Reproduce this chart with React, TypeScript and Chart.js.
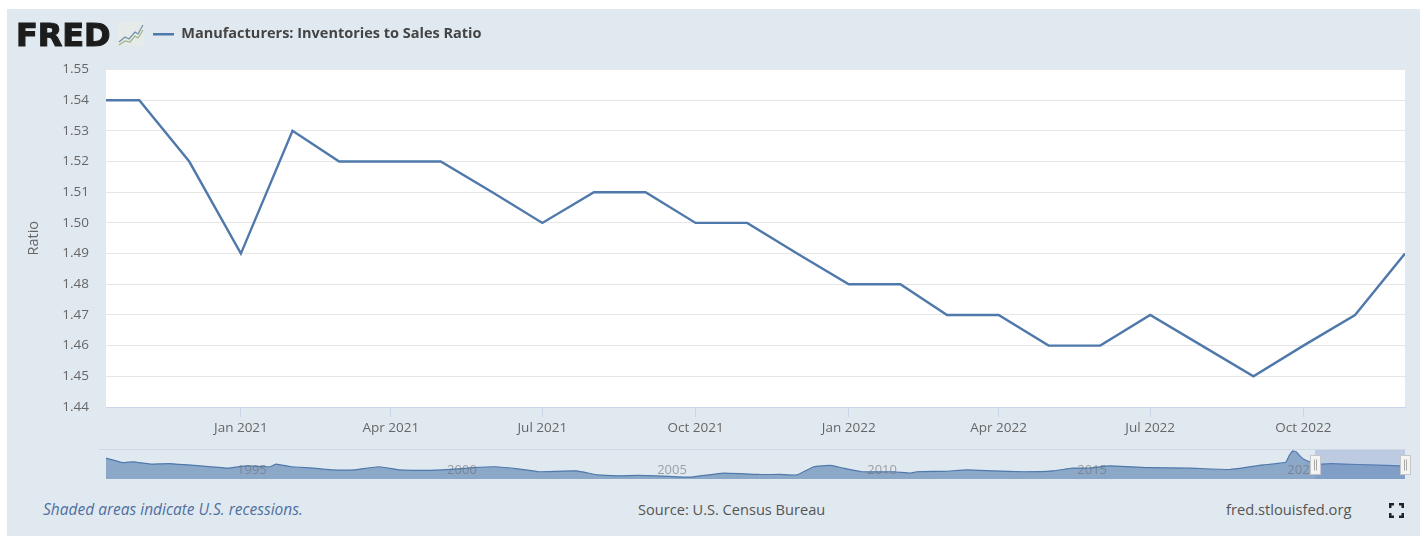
import React, { useEffect, useRef } from "react";
import { Chart, registerables } from "chart.js";

Chart.register(...registerables);

const SERIES_NAME = "Manufacturers: Inventories to Sales Ratio";

// Monthly observations shown in the main panel.
const months = [
  "2020-10-01", "2020-11-01", "2020-12-01", "2021-01-01", "2021-02-01", "2021-03-01", "2021-04-01",
  "2021-05-01", "2021-06-01", "2021-07-01", "2021-08-01", "2021-09-01", "2021-10-01", "2021-11-01",
  "2021-12-01", "2022-01-01", "2022-02-01", "2022-03-01", "2022-04-01", "2022-05-01", "2022-06-01",
  "2022-07-01", "2022-08-01", "2022-09-01", "2022-10-01", "2022-11-01", "2022-12-01",
];
const ratios = [
  1.54, 1.54, 1.52, 1.49, 1.53, 1.52, 1.52, 1.52, 1.51, 1.5, 1.51, 1.51, 1.5, 1.5, 1.49, 1.48, 1.48,
  1.47, 1.47, 1.46, 1.46, 1.47, 1.46, 1.45, 1.46, 1.47, 1.49,
];

const viewStart = "2020-10-12";
const viewEnd = "2022-12-01";

const quarterDates = [
  "2021-01-01", "2021-04-01", "2021-07-01", "2021-10-01", "2022-01-01", "2022-04-01", "2022-07-01", "2022-10-01",
];
const quarterLabels = ["Jan 2021", "Apr 2021", "Jul 2021", "Oct 2021", "Jan 2022", "Apr 2022", "Jul 2022", "Oct 2022"];

// Full history drawn in the range navigator, as decimal years.
const historyYears = [
  1992.0, 1992.4, 1992.65, 1993.05, 1993.5, 1994.25, 1994.9, 1995.35, 1995.9, 1996.05, 1996.4, 1996.95, 1997.4,
  1997.9, 1998.5, 1999.0, 1999.7, 2000.0, 2000.75, 2001.25, 2001.85, 2002.3, 2003.2, 2003.7, 2004.2, 2004.65,
  2005.1, 2005.9, 2006.7, 2007.55, 2008.05, 2008.45, 2008.85, 2009.25, 2009.55, 2010.0, 2010.75, 2011.15, 2011.3,
  2011.95, 2012.5, 2013.1, 2013.85, 2014.55, 2015.0, 2015.4, 2015.9, 2016.85, 2017.8, 2018.75, 2019.55, 2020.08,
  2020.17, 2020.25, 2020.33, 2020.42, 2020.5, 2020.65, 2020.9, 2021.15, 2021.8, 2022.8, 2022.92,
];
const historyRatios = [
  1.61, 1.51, 1.53, 1.48, 1.49, 1.44, 1.39, 1.44, 1.42, 1.48, 1.42, 1.39, 1.35, 1.35, 1.42, 1.35, 1.34, 1.35, 1.4,
  1.42, 1.37, 1.31, 1.33, 1.24, 1.22, 1.23, 1.22, 1.19, 1.28, 1.25, 1.25, 1.24, 1.42, 1.45, 1.39, 1.31, 1.31, 1.28,
  1.31, 1.32, 1.35, 1.33, 1.31, 1.33, 1.39, 1.39, 1.44, 1.4, 1.39, 1.36, 1.46, 1.52, 1.68, 1.77, 1.75, 1.66, 1.59,
  1.53, 1.48, 1.49, 1.47, 1.44, 1.44,
];
const navigatorYears = [1995, 2000, 2005, 2010, 2015, 2020];
const navigatorWindow = [2020.78, 2022.92];

const FONT = '"Open Sans", sans-serif';
const TEXT = "#666666";

const toTime = (d: string) => new Date(d + "T00:00:00Z").getTime();

// Paints the white plot area and moves the legend next to the logo.
const plotFrame = {
  id: "plotFrame",
  afterLayout(chart: any) {
    const legend = chart.legend;
    legend.left = 143;
    legend.right = 900;
    legend.top = 17;
  },
  beforeDraw(chart: any) {
    const { ctx, chartArea: a } = chart;
    ctx.save();
    ctx.fillStyle = "#ffffff";
    ctx.fillRect(a.left, a.top, a.right - a.left, a.bottom - a.top);
    ctx.restore();
  },
};

// Year labels, selection mask and drag handles of the range navigator.
const navigatorOverlay = {
  id: "navigatorOverlay",
  beforeDatasetsDraw(chart: any) {
    const { ctx, chartArea: a } = chart;
    ctx.save();
    ctx.strokeStyle = "#cfd8e0";
    ctx.lineWidth = 1;
    ctx.beginPath();
    ctx.moveTo(99, a.top - 0.5);
    ctx.lineTo(a.right + 1, a.top - 0.5);
    ctx.stroke();
    ctx.restore();
  },
  afterDatasetsDraw(chart: any) {
    const { ctx, chartArea: a, scales } = chart;
    const x = scales.x;
    ctx.save();
    ctx.font = `13px ${FONT}`;
    ctx.fillStyle = "rgba(110,110,110,0.6)";
    ctx.textAlign = "left";
    ctx.textBaseline = "middle";
    navigatorYears.forEach((yr) => ctx.fillText(String(yr), x.getPixelForValue(yr) + 5, a.top + 20));

    const x0 = x.getPixelForValue(navigatorWindow[0]);
    const x1 = x.getPixelForValue(navigatorWindow[1]);
    ctx.fillStyle = "rgba(102,133,194,0.3)";
    ctx.fillRect(x0, a.top, x1 - x0, a.bottom - a.top);

    [x0, x1].forEach((cx) => {
      const w = 10;
      const h = 19;
      const top = a.top + 5.5;
      const left = Math.round(cx - w / 2) + 0.5;
      ctx.fillStyle = "#f4f4f2";
      ctx.strokeStyle = "#c4c8cc";
      ctx.lineWidth = 1;
      ctx.fillRect(left, top, w, h);
      ctx.strokeRect(left, top, w, h);
      ctx.strokeStyle = "#a9a9a9";
      ctx.beginPath();
      ctx.moveTo(left + 4, top + 4);
      ctx.lineTo(left + 4, top + h - 4);
      ctx.moveTo(left + 6, top + 4);
      ctx.lineTo(left + 6, top + h - 4);
      ctx.stroke();
    });
    ctx.restore();
  },
};

const cornerIcon = "M1 5V1H5 M10 1H14V5 M14 10V14H10 M5 14H1V10";

export default function App() {
  const mainRef = useRef<HTMLCanvasElement>(null);
  const navRef = useRef<HTMLCanvasElement>(null);

  useEffect(() => {
    const main = new Chart(mainRef.current!, {
      type: "line",
      plugins: [plotFrame],
      data: {
        datasets: [
          {
            label: SERIES_NAME,
            data: months.map((m, i) => ({ x: toTime(m), y: ratios[i] })),
            borderColor: "#4f78ab",
            backgroundColor: "#4f78ab",
            borderWidth: 2.4,
            pointRadius: 0,
            tension: 0,
          },
        ],
      },
      options: {
        responsive: false,
        animation: false,
        layout: { padding: { top: 35, right: 15, left: 25, bottom: 0 } },
        plugins: {
          tooltip: { enabled: false },
          legend: {
            display: true,
            align: "start",
            labels: {
              usePointStyle: true,
              pointStyle: "line",
              pointStyleWidth: 21,
              color: "#444444",
              font: { family: FONT, size: 14.5, weight: "700" },
              padding: 10,
            },
          },
        },
        scales: {
          x: {
            type: "linear",
            min: toTime(viewStart),
            max: toTime(viewEnd),
            afterBuildTicks: (scale: any) => {
              scale.ticks = quarterDates.map((d) => ({ value: toTime(d) }));
            },
            afterFit: (scale: any) => {
              scale.height = 38;
            },
            border: { color: "#ccd6eb" },
            grid: { drawOnChartArea: false, drawTicks: true, tickLength: 10, color: "#ccd6eb" },
            ticks: {
              autoSkip: false,
              maxRotation: 0,
              padding: 3,
              color: TEXT,
              font: { family: FONT, size: 13.5 },
              callback: (v: any) => quarterLabels[quarterDates.findIndex((d) => toTime(d) === v)],
            },
          },
          y: {
            min: 1.44,
            max: 1.55,
            afterFit: (scale: any) => {
              scale.width = 81;
            },
            border: { display: false },
            grid: { color: "#e6e6e6", drawTicks: false },
            title: {
              display: true,
              text: "Ratio",
              color: TEXT,
              font: { family: FONT, size: 14.5 },
              padding: 0,
            },
            ticks: {
              stepSize: 0.01,
              padding: 17,
              color: TEXT,
              font: { family: FONT, size: 13.5 },
              callback: (v: any) => Number(v).toFixed(2),
            },
          },
        },
      },
    } as any);

    const nav = new Chart(navRef.current!, {
      type: "line",
      plugins: [navigatorOverlay],
      data: {
        datasets: [
          {
            data: historyYears.map((yr, i) => ({ x: yr, y: historyRatios[i] })),
            borderColor: "#4f78ab",
            borderWidth: 1.2,
            backgroundColor: "rgba(69,114,167,0.55)",
            fill: "start",
            pointRadius: 0,
            tension: 0.1,
          },
        ],
      },
      options: {
        responsive: false,
        animation: false,
        layout: { padding: { top: 5, right: 15, left: 106, bottom: 6 } },
        plugins: { legend: { display: false }, tooltip: { enabled: false } },
        scales: {
          x: { type: "linear", display: false, min: 1992, max: 2022.92 },
          y: { display: false, min: 1.15, max: 1.79 },
        },
      },
    } as any);

    return () => {
      main.destroy();
      nav.destroy();
    };
  }, []);

  const textBase: React.CSSProperties = {
    position: "absolute",
    fontFamily: FONT,
    whiteSpace: "nowrap",
    lineHeight: "20px",
  };

  return (
    <div style={{ position: "fixed", left: 0, top: 0, width: 1420, height: 536, background: "#fff", overflow: "hidden" }}>
      <div style={{ position: "absolute", left: 7, top: 9, right: 0, bottom: 0, background: "#e1e9f0" }} />
      <canvas ref={mainRef} width={1420} height={445} style={{ position: "absolute", left: 0, top: 0 }} />
      <canvas ref={navRef} width={1420} height={40} style={{ position: "absolute", left: 0, top: 445 }} />

      <div
        style={{
          ...textBase,
          left: 16,
          top: 15,
          lineHeight: "40px",
          fontFamily: '"DejaVu Sans", sans-serif',
          fontWeight: 700,
          fontSize: 32,
          letterSpacing: -0.1,
          color: "#1c1c1c",
          WebkitTextStroke: "1.1px #1c1c1c",
        }}
      >
        FRED
      </div>
      <svg width="26" height="24" style={{ position: "absolute", left: 118, top: 22 }}>
        <rect width="26" height="24" fill="#e6eae8" />
        <polyline points="1,20 7,15 11,17 17,10 20,12 25,3" fill="none" stroke="#6f8fa8" strokeWidth="1.2" />
        <polyline points="1,23 7,19 12,20 17,14 20,16 25,8" fill="none" stroke="#9db58c" strokeWidth="1.2" />
      </svg>

      <div style={{ ...textBase, left: 43, top: 499, fontSize: 15.5, fontStyle: "italic", color: "#4f6f9f" }}>
        Shaded areas indicate U.S. recessions.
      </div>
      <div style={{ ...textBase, left: 638, top: 499, fontSize: 14.6, color: "#555" }}>Source: U.S. Census Bureau</div>
      <div style={{ ...textBase, left: 1226, top: 499, fontSize: 14.7, color: "#555" }}>fred.stlouisfed.org</div>
      <svg width="15" height="15" style={{ position: "absolute", left: 1389, top: 503 }}>
        <path d={cornerIcon} fill="none" stroke="#222" strokeWidth="3" />
      </svg>
    </div>
  );
}
